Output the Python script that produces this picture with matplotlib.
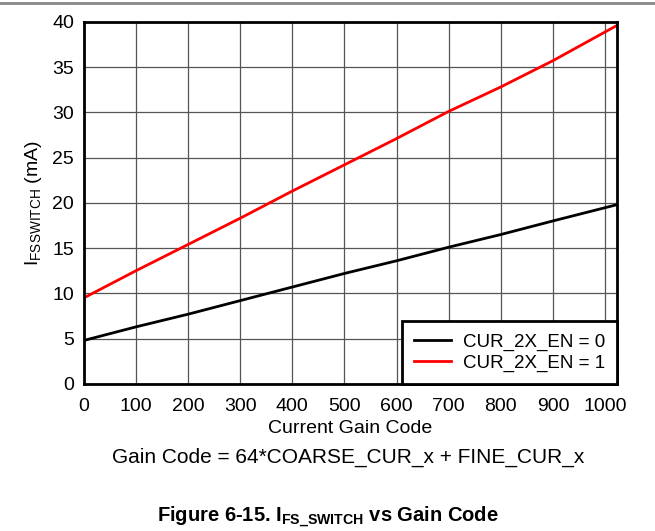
import numpy as np
import matplotlib.pyplot as plt
from matplotlib.lines import Line2D

plt.rcParams['font.family'] = ['Liberation Sans', 'DejaVu Sans']
plt.rcParams['mathtext.fontset'] = 'custom'
plt.rcParams['mathtext.rm'] = 'Liberation Sans'
plt.rcParams['mathtext.bf'] = 'Liberation Sans:bold'

# gain code vs full-scale switch current (mA)
codes = [0, 100, 200, 300, 400, 500, 600, 700, 800, 900, 1023]
i_en0 = [4.8, 6.3, 7.7, 9.2, 10.7, 12.2, 13.6, 15.1, 16.5, 18.0, 19.8]
i_en1 = [9.5, 12.5, 15.4, 18.3, 21.3, 24.2, 27.1, 30.1, 32.8, 35.7, 39.6]

labels = ['CUR_2X_EN = 0', 'CUR_2X_EN = 1']
colors = ['black', 'red']

fig = plt.figure(figsize=(6.55, 5.31), dpi=100)
ax = fig.add_axes([0.128, 0.277, 0.814, 0.682])

ax.plot(codes, i_en0, color=colors[0], lw=2, label=labels[0])
ax.plot(codes, i_en1, color=colors[1], lw=2, label=labels[1])

ax.set_xlim(0, 1023)
ax.set_ylim(0, 40)
ax.set_xticks(np.arange(0, 1001, 100))
ax.set_yticks(np.arange(0, 41, 5))
ax.grid(True, color='#555555', lw=0.9)
ax.tick_params(length=0, labelsize=14, pad=7)
ax.tick_params(axis='x', pad=10)
for s in ax.spines.values():
    s.set_linewidth(2)
    s.set_zorder(5)

ax.set_xlabel('Current Gain Code', fontsize=14, labelpad=4)
ax.set_ylabel(r'I$_{\mathrm{FSSWITCH}}$ (mA)', fontsize=14, labelpad=6)

leg = ax.legend(loc='lower right', fontsize=13.5, fancybox=False, framealpha=1,
                edgecolor='black', borderaxespad=0, handlelength=2.0,
                labelspacing=0.2, borderpad=0.65, handletextpad=0.6)
leg.get_frame().set_linewidth(2)

fig.text(0.532, 0.139, 'Gain Code = 64*COARSE_CUR_x + FINE_CUR_x',
         ha='center', va='center', fontsize=15)
fig.text(0.50, 0.028, r'Figure 6-15. I$_{\mathbf{FS\_SWITCH}}$ vs Gain Code',
         ha='center', va='center', fontsize=14.5, fontweight='bold')
fig.add_artist(Line2D([0, 1], [0.994, 0.994], color='#888888', lw=2,
                      transform=fig.transFigure))

fig.savefig('out.png', dpi=100)
